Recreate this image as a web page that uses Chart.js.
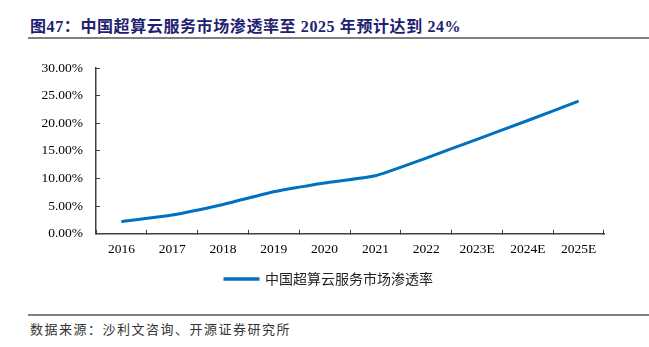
<!DOCTYPE html>
<html>
<head>
<meta charset="utf-8">
<script src="https://cdn.jsdelivr.net/npm/chart.js@4"></script>
<style>
  body { margin: 0; background: #fff; width: 649px; height: 347px; position: relative; overflow: hidden; }
  .title { position: absolute; left: 30px; top: 13px; font: bold 16px "Liberation Serif", "Noto Sans CJK SC"; letter-spacing: 0.6px; color: #1e2272; }
  .rule { position: absolute; left: 28px; right: 0; height: 2px; background: #808080; }
  .src { position: absolute; left: 30px; top: 319px; font: 13px "Liberation Serif", "Noto Sans CJK SC"; letter-spacing: 1.5px; color: #333; }
  #wrap { position: absolute; left: 0; top: 0; width: 649px; height: 296px; }
</style>
</head>
<body>
<div class="title">图47：中国超算云服务市场渗透率至 2025 年预计达到 24%</div>
<div class="rule" style="top:37px"></div>
<div id="wrap"><canvas id="myChart"></canvas></div>
<div class="rule" style="top:314px"></div>
<div class="src">数据来源：沙利文咨询、开源证券研究所</div>
<script>
const years = ['2016', '2017', '2018', '2019', '2020', '2021', '2022', '2023E', '2024E', '2025E'];
const penetration = [2.2, 3.4, 5.3, 7.6, 9.2, 10.5, 13.7, 17.1, 20.5, 24.0];
const seriesName = '中国超算云服务市场渗透率';

// nudge the legend to the right of the plot centre
const legendShift = {
    id: 'legendShift',
    afterLayout(chart) {
        const lg = chart.legend;
        lg.left += 22;
        lg.right += 22;
    },
};

function chart() {
    const blue = '#0070c0';
    const axisColor = '#404040';
    const tickFont = { family: "'Liberation Serif', 'Noto Sans CJK SC'", size: 13.5 };

    const config = {
        type: 'line',
        data: {
            labels: years,
            datasets: [
                {
                    label: seriesName,
                    data: penetration,
                    borderColor: blue,
                    backgroundColor: blue,
                    borderWidth: 3,
                    pointRadius: 0,
                    tension: 0.15,
                },
            ],
        },
        options: {
            responsive: true,
            maintainAspectRatio: false,
            animation: false,
            layout: { padding: { top: 68, left: 10, right: 45, bottom: 0 } },
            plugins: {
                legend: {
                    position: 'bottom',
                    labels: {
                        boxWidth: 33,
                        boxHeight: 0.5,
                        color: '#222',
                        padding: 2,
                        font: { family: "'Noto Sans CJK SC'", size: 14 },
                    },
                },
                title: { display: false },
                tooltip: { enabled: false },
            },
            scales: {
                x: {
                    offset: true,
                    grid: {
                        offset: true,
                        drawOnChartArea: false,
                        drawTicks: true,
                        tickLength: -4,
                        color: axisColor,
                    },
                    border: { color: axisColor, width: 1.5 },
                    ticks: { color: '#000', font: tickFont, padding: 12, maxRotation: 0 },
                },
                y: {
                    min: 0,
                    max: 30,
                    afterFit: (scale) => { scale.width = 86; },
                    grid: {
                        drawOnChartArea: false,
                        drawTicks: true,
                        tickLength: -4,
                        color: axisColor,
                    },
                    border: { color: axisColor, width: 1.5 },
                    ticks: {
                        stepSize: 5,
                        color: '#000',
                        font: tickFont,
                        padding: 17,
                        callback: (v) => v.toFixed(2) + '%',
                    },
                },
            },
        },
        plugins: [legendShift],
    };
    const myChart = new Chart(document.getElementById('myChart'), config);
}
chart();
</script>
</body>
</html>
